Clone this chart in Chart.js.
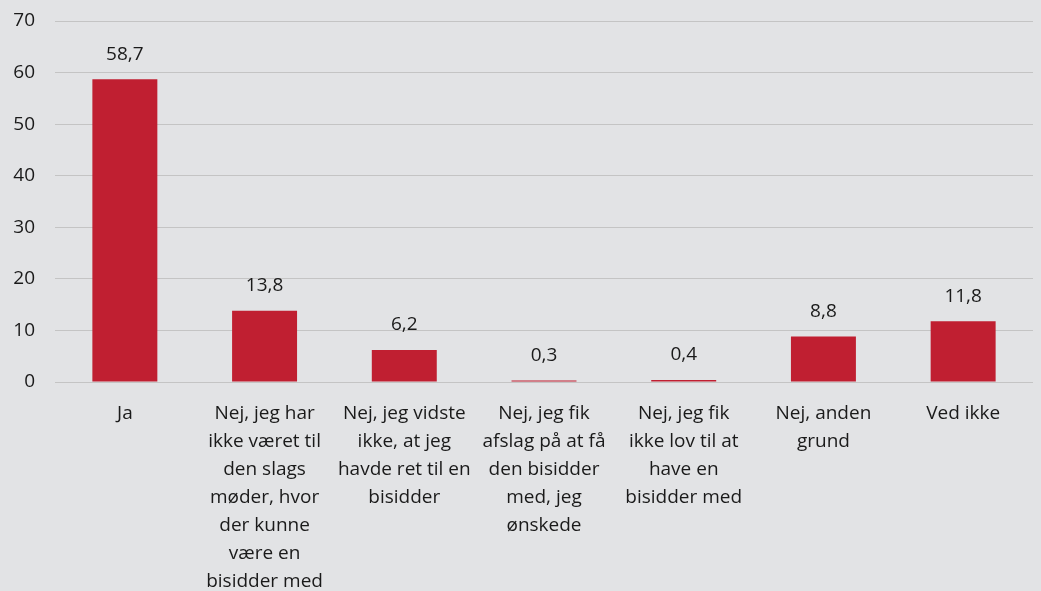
<!DOCTYPE html>
<html lang="da">
<head>
  <meta charset="UTF-8">
  <title>Bisidder</title>
  <script src="https://cdn.jsdelivr.net/npm/chart.js"></script>
  <style>
    html, body { margin: 0; padding: 0; background: #e2e3e5; }
    .wrap { width: 1041px; height: 591px; }
  </style>
</head>
<body>
  <div class="wrap"><canvas id="chart"></canvas></div>
  <script>
    // Data
    const categories = [
      ['Ja'],
      ['Nej, jeg har', 'ikke været til', 'den slags', 'møder, hvor', 'der kunne', 'være en', 'bisidder med'],
      ['Nej, jeg vidste', 'ikke, at jeg', 'havde ret til en', 'bisidder'],
      ['Nej, jeg fik', 'afslag på at få', 'den bisidder', 'med, jeg', 'ønskede'],
      ['Nej, jeg fik', 'ikke lov til at', 'have en', 'bisidder med'],
      ['Nej, anden', 'grund'],
      ['Ved ikke']
    ];
    const values = [58.7, 13.8, 6.2, 0.3, 0.4, 8.8, 11.8];
    const yTicks = [0, 10, 20, 30, 40, 50, 60, 70];

    const fontFamily = '"Open Sans", "Noto Sans", sans-serif';
    const fontSize = 19;

    // simple value labels above bars
    const valueLabels = {
      id: 'valueLabels',
      afterDatasetsDraw(chart) {
        const ctx = chart.ctx;
        const meta = chart.getDatasetMeta(0);
        ctx.save();
        ctx.font = fontSize + 'px ' + fontFamily;
        ctx.fillStyle = '#1a1a1a';
        ctx.textAlign = 'center';
        ctx.textBaseline = 'middle';
        meta.data.forEach((bar, i) => {
          ctx.fillText(values[i].toFixed(1).replace('.', ','), bar.x, bar.y - 25);
        });
        ctx.restore();
      }
    };

    new Chart(document.getElementById('chart'), {
      type: 'bar',
      data: {
        labels: categories,
        datasets: [{
          data: values,
          backgroundColor: '#c01f31',
          categoryPercentage: 1,
          barPercentage: 0.465
        }]
      },
      options: {
        responsive: true,
        maintainAspectRatio: false,
        animation: false,
        layout: { padding: { top: 21, right: 8, left: 8, bottom: 0 } },
        plugins: {
          legend: { display: false },
          tooltip: { enabled: false }
        },
        scales: {
          y: {
            min: 0,
            max: 70,
            afterBuildTicks(scale) {
              scale.ticks = yTicks.map(v => ({ value: v }));
            },
            afterFit(scale) {
              scale.width = 47;
              scale.paddingTop = 0;
              scale.paddingBottom = 0;
            },
            grid: { color: '#c4c4c4', lineWidth: 1, drawTicks: false },
            border: { display: false },
            ticks: {
              padding: 20,
              color: '#1a1a1a',
              font: { family: fontFamily, size: fontSize }
            }
          },
          x: {
            afterFit(scale) {
              scale.height = 209;
              scale.paddingTop = 0;
            },
            grid: { display: false },
            border: { display: false },
            ticks: {
              maxRotation: 0,
              autoSkip: false,
              padding: 10,
              color: '#1a1a1a',
              font: { family: fontFamily, size: fontSize, lineHeight: 1.47 }
            }
          }
        }
      },
      plugins: [valueLabels]
    });
  </script>
</body>
</html>
